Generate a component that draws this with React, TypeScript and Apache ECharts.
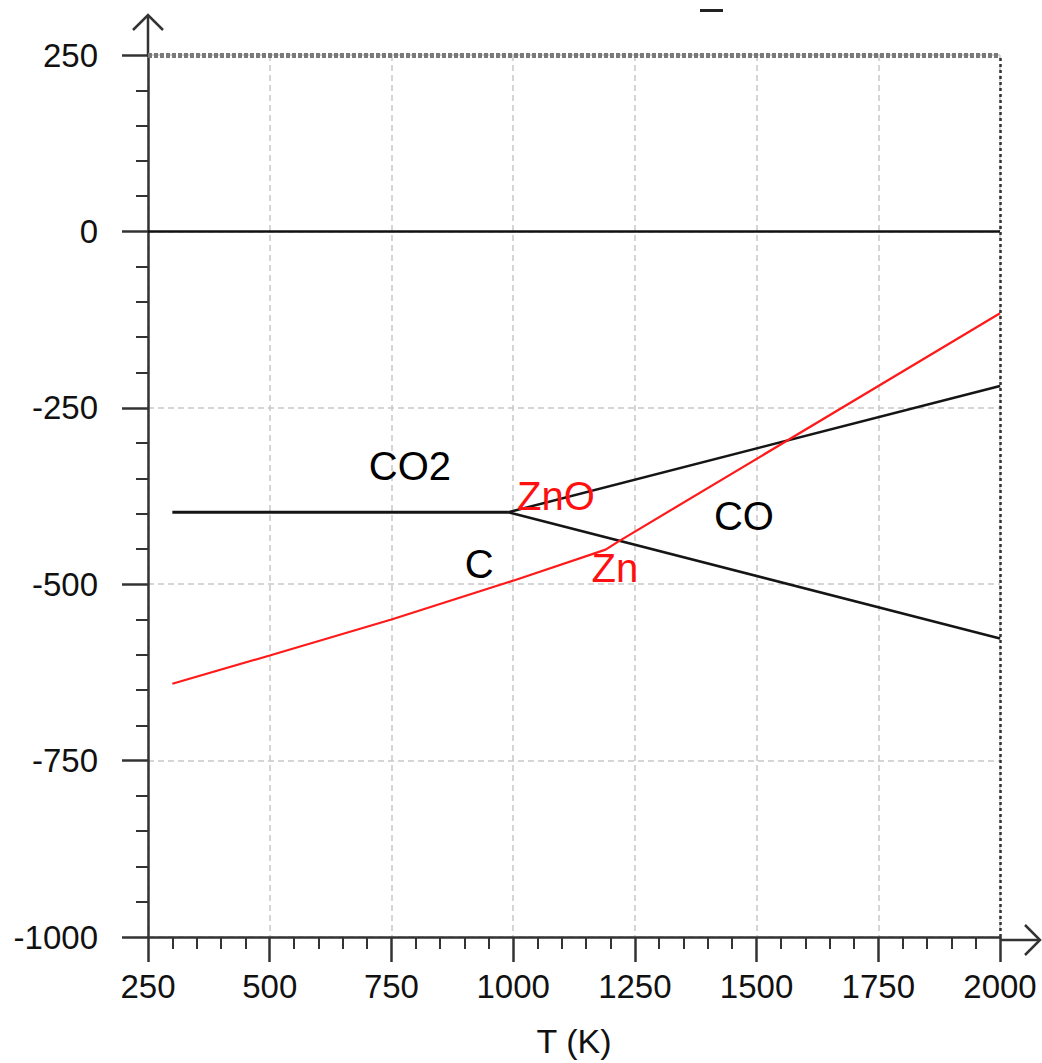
import React, { useEffect, useRef } from "react";
import * as echarts from "echarts";

// Ellingham-type diagram data (T in K, ΔG in kJ)
const xTicks = [250, 500, 750, 1000, 1250, 1500, 1750, 2000];
const yTicks = [-1000, -750, -500, -250, 0, 250];

const co2T = [300, 990];
const co2G = [-398, -398];

const coToCo2T = [990, 2000];
const coToCo2G = [-398, -219];

const cToCoT = [990, 2000];
const cToCoG = [-398, -577];

const znT = [300, 500, 750, 1000, 1190, 1215, 2000];
const znG = [-641, -601, -550, -495, -451, -440, -116];

const labelNames = ["CO2", "ZnO", "C", "Zn", "CO"];
const labelT = [788, 1088, 930, 1209, 1474];
const labelG = [-332, -375, -472, -477, -403];
const labelColors = ["#000000", "#ff1010", "#000000", "#ff1010", "#000000"];

const FONT = "'Liberation Sans', Arial, sans-serif";

// layout
const W = 1042;
const H = 1063;
const G_LEFT = 148;
const G_TOP = 55;
const G_RIGHT = 1000;
const G_BOTTOM = 940;

const zip = (a: number[], b: number[]) => a.map((v, i) => [v, b[i]]);

export default function App() {
  const ref = useRef<HTMLDivElement>(null);
  useEffect(() => {
    if (!ref.current) return;
    const chart = echarts.init(ref.current, undefined, { renderer: "svg" });
    const black = "#151515";
    const option: any = {
      animation: false,
      backgroundColor: "#ffffff",
      grid: {
        left: G_LEFT,
        top: G_TOP,
        right: W - G_RIGHT,
        bottom: H - G_BOTTOM,
        containLabel: false,
      },
      xAxis: {
        type: "value",
        min: xTicks[0],
        max: xTicks[xTicks.length - 1],
        interval: 250,
        axisLine: { show: true, onZero: false, lineStyle: { color: "#333", width: 2.5 } },
        axisTick: { show: true, length: 25, lineStyle: { color: "#333", width: 2.5 } },
        minorTick: { show: true, splitNumber: 5, length: 12, lineStyle: { color: "#333", width: 2 } },
        axisLabel: {
          fontSize: 33,
          color: "#111",
          margin: 33,
          fontFamily: FONT,
          showMinLabel: true,
          showMaxLabel: true,
          formatter: (v: number) => String(v),
        },
        splitLine: { show: true, lineStyle: { color: "#c8c8c8", type: [6, 4], width: 1.5 } },
        name: "T (K)",
        nameLocation: "middle",
        nameGap: 87,
        nameTextStyle: { fontSize: 34, color: "#111", fontFamily: FONT },
      },
      yAxis: {
        type: "value",
        min: yTicks[0],
        max: yTicks[yTicks.length - 1],
        interval: 250,
        axisLine: { show: true, onZero: false, lineStyle: { color: "#333", width: 2.5 } },
        axisTick: { show: true, length: 26, lineStyle: { color: "#333", width: 2.5 } },
        minorTick: { show: true, splitNumber: 5, length: 12, lineStyle: { color: "#333", width: 2 } },
        axisLabel: {
          fontSize: 33,
          color: "#111",
          margin: 50,
          fontFamily: FONT,
          showMinLabel: true,
          showMaxLabel: true,
          formatter: (v: number) => String(v),
        },
        splitLine: { show: true, lineStyle: { color: "#c8c8c8", type: [6, 4], width: 1.5 } },
      },
      series: [
        {
          type: "line",
          data: zip(co2T, co2G),
          symbol: "none",
          lineStyle: { color: black, width: 3 },
          markLine: {
            silent: true,
            symbol: "none",
            label: { show: false },
            data: [
              { yAxis: 0, lineStyle: { color: "#111", width: 2.5, type: "solid" } },
              { yAxis: 250, lineStyle: { color: "#7a7a7a", width: 5, type: [4, 2] } },
              { xAxis: 2000, lineStyle: { color: "#333", width: 2.5, type: [3, 3] } },
            ],
          },
          z: 3,
        },
        {
          type: "line",
          data: zip(coToCo2T, coToCo2G),
          symbol: "none",
          lineStyle: { color: black, width: 2.5 },
          z: 3,
        },
        {
          type: "line",
          data: zip(cToCoT, cToCoG),
          symbol: "none",
          lineStyle: { color: black, width: 2.5 },
          z: 3,
        },
        {
          type: "line",
          data: zip(znT, znG),
          symbol: "none",
          lineStyle: { color: "#ff1a1a", width: 2.2 },
          z: 4,
        },
        {
          type: "scatter",
          symbolSize: 1,
          itemStyle: { color: "rgba(0,0,0,0)", opacity: 1 },
          silent: true,
          z: 5,
          data: labelNames.map((n, i) => ({
            value: [labelT[i], labelG[i]],
            name: n,
            label: {
              show: true,
              position: "inside",
              formatter: n,
              fontSize: 40,
              fontFamily: FONT,
              color: labelColors[i],
              opacity: 1,
            },
          })),
        },
      ],
      graphic: [
        // y-axis extension and arrowhead
        {
          type: "line",
          shape: { x1: G_LEFT, y1: G_TOP, x2: G_LEFT, y2: 15 },
          style: { stroke: "#333", lineWidth: 2.5 },
        },
        {
          type: "polyline",
          shape: { points: [[G_LEFT - 15, 30], [G_LEFT, 15], [G_LEFT + 15, 30]] },
          style: { stroke: "#333", lineWidth: 2.5, fill: "none" },
        },
        // x-axis extension and arrowhead
        {
          type: "line",
          shape: { x1: G_RIGHT, y1: G_BOTTOM, x2: 1040, y2: G_BOTTOM },
          style: { stroke: "#333", lineWidth: 2.5 },
        },
        {
          type: "polyline",
          shape: { points: [[1025, G_BOTTOM - 15], [1040, G_BOTTOM], [1025, G_BOTTOM + 15]] },
          style: { stroke: "#333", lineWidth: 2.5, fill: "none" },
        },
        // clipped title fragment at top
        {
          type: "rect",
          shape: { x: 700, y: 9, width: 23, height: 3 },
          style: { fill: "#222" },
        },
      ],
    };
    chart.setOption(option);
    return () => chart.dispose();
  }, []);
  return (
    <div
      ref={ref}
      style={{ position: "fixed", left: 0, top: 0, width: W, height: H, background: "#fff" }}
    />
  );
}
